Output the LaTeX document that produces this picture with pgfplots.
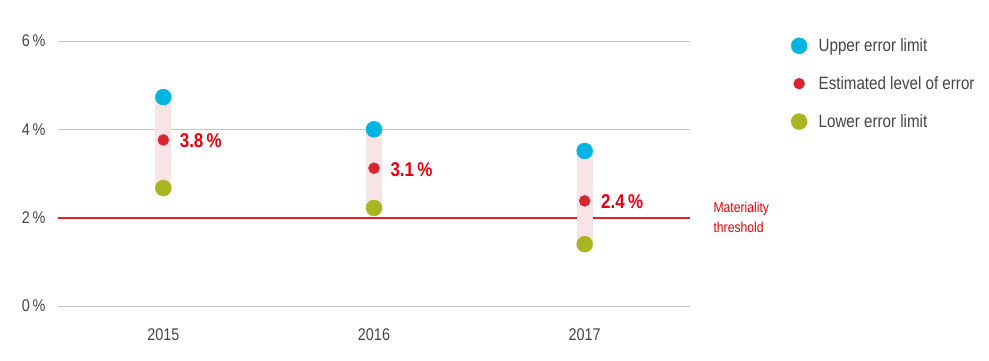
\documentclass[border=0pt]{standalone}
\usepackage{pgfplots}
\pgfplotsset{compat=1.18}
\usepackage{fontspec}
\setmainfont[FakeStretch=0.85]{Liberation Sans}
\definecolor{cblue}{HTML}{00B5E2}
\definecolor{cred}{HTML}{D7252F}
\definecolor{cgreen}{HTML}{A8B520}
\definecolor{cpink}{HTML}{F8E4E6}
\definecolor{tred}{HTML}{E3000F}
\definecolor{tgray}{HTML}{444444}
\definecolor{thrcol}{HTML}{E0212C}
\begin{document}
\begin{tikzpicture}[x=1bp,y=1bp]
\begin{axis}[
  at={(58bp,55bp)}, anchor=south west,
  scale only axis, width=632bp, height=265bp,
  xmin=-0.5, xmax=2.5, ymin=0, ymax=6,
  axis line style={draw=none},
  xtick={0,1,2}, xticklabels={2015,2016,2017},
  ytick={0,4,6},
  yticklabel={\pgfmathprintnumber{\tick}\,\%},
  extra y ticks={2}, extra y tick labels={2\,\%},
  extra y tick style={grid=none},
  /pgf/number format/assume math mode=true,
  ymajorgrids, major grid style={draw=black!22, line width=1bp},
  tick style={draw=none},
  major tick length=0pt,
  tick label style={font=\fontsize{17}{19}\selectfont, text=tgray},
  yticklabel style={xshift=-9bp},
  xticklabel style={yshift=-19bp},
  clip=false,
  legend style={draw=none, fill=none, at={(1.155,1.025)}, anchor=north west,
    font=\fontsize{17.9}{20}\selectfont, text=tgray, row sep=19.5bp,
    legend cell align=left,
    nodes={inner xsep=11.5bp}},
  legend image code/.code={\draw[#1] plot coordinates {(0bp,0bp)};},
]
% threshold
\addplot[color=thrcol, line width=1.7bp, forget plot, mark=none] coordinates {(-0.5,2) (2.5,2)};
% pink bars
\addplot[draw=cpink, line width=16bp, forget plot, mark=none] coordinates {(0,2.67) (0,4.73)};
\addplot[draw=cpink, line width=16bp, forget plot, mark=none] coordinates {(1,2.22) (1,4.00)};
\addplot[draw=cpink, line width=16bp, forget plot, mark=none] coordinates {(2,1.40) (2,3.51)};
% markers
\addplot[only marks, mark=*, mark size=8bp, mark options={draw=cblue, fill=cblue}]
  coordinates {(0,4.73) (1,4.00) (2,3.51)};
\addlegendentry{Upper error limit}
\addplot[only marks, mark=*, mark size=5.5bp, mark options={draw=cred, fill=cred},
  point meta=explicit symbolic,
  nodes near coords,
  every node near coord/.style={anchor=west, xshift=13bp, yshift=-1bp, text=tred,
    font=\bfseries\fontsize{20}{22}\selectfont}]
  coordinates {(0,3.76) [3.8\,\%] (1,3.12) [3.1\,\%] (2,2.38) [2.4\,\%]};
\addlegendentry{Estimated level of error}
\addplot[only marks, mark=*, mark size=8bp, mark options={draw=cgreen, fill=cgreen}]
  coordinates {(0,2.67) (1,2.22) (2,1.40)};
\addlegendentry{Lower error limit}
\node[anchor=west, align=left, text=tred, font=\fontsize{14.4}{20}\selectfont, xshift=20bp]
  at (axis cs:2.5,2) {Materiality\\threshold};
\end{axis}
\pgfresetboundingbox
\useasboundingbox (0,0) rectangle (989bp,361bp);
\end{tikzpicture}
\end{document}
